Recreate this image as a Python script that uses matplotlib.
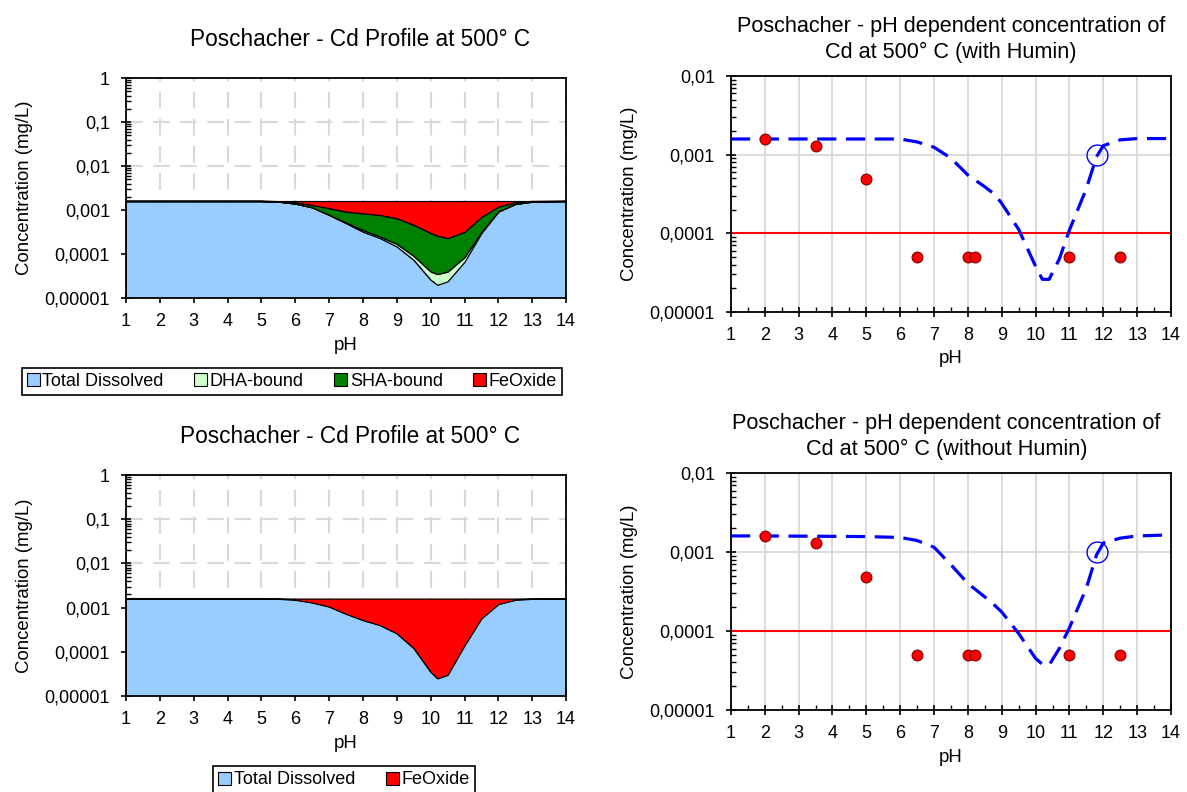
import matplotlib
matplotlib.use("Agg")
import matplotlib.pyplot as plt
import numpy as np
from matplotlib.patches import Patch
from matplotlib.ticker import LogLocator, NullFormatter, MultipleLocator

plt.rcParams['font.family'] = ['Liberation Sans', 'DejaVu Sans']

# pH grid for the stacked profiles (left charts)
ph_prof = [1, 2, 3, 4, 5, 5.5, 6, 6.5, 7, 7.5, 8, 8.5, 9, 9.5, 10, 10.2, 10.5, 11, 11.5, 12, 12.5, 13, 14]

# with Humin (top left), mg/L
dissolved_h = [1.6e-3, 1.6e-3, 1.6e-3, 1.6e-3, 1.6e-3, 1.55e-3, 1.4e-3, 1.15e-3, 7.7e-4, 5.0e-4, 3.2e-4, 2.3e-4,
               1.48e-4, 7.3e-5, 2.6e-5, 2.0e-5, 2.4e-5, 6.7e-5, 3.0e-4, 9.2e-4, 1.37e-3, 1.55e-3, 1.6e-3]
dha_h = [0, 0, 0, 0, 0, 0, 0, 0, 1e-5, 2e-5, 3e-5, 2e-5, 2.2e-5, 1.7e-5, 1.4e-5, 1.5e-5, 1.6e-5, 1.8e-5,
         2e-5, 2e-5, 1e-5, 0, 0]
sha_h = [0, 0, 0, 0, 0, 3e-5, 1e-4, 1.5e-4, 3.2e-4, 4.0e-4, 4.9e-4, 5.2e-4, 4.8e-4, 3.7e-4, 2.6e-4, 2.25e-4,
         1.9e-4, 2.35e-4, 3.8e-4, 2.6e-4, 1.2e-4, 5e-5, 0]
feox_h = [0, 0, 0, 0, 0, 2e-5, 1e-4, 3e-4, 5e-4, 6.8e-4, 7.6e-4, 8.3e-4, 9.5e-4, 1.14e-3, 1.3e-3, 1.34e-3,
          1.37e-3, 1.28e-3, 9.0e-4, 4.0e-4, 1.0e-4, 0, 0]

# without Humin (bottom left)
dissolved_n = [1.6e-3, 1.6e-3, 1.6e-3, 1.6e-3, 1.6e-3, 1.58e-3, 1.5e-3, 1.3e-3, 1.05e-3, 7.2e-4, 5.2e-4, 4.0e-4,
               2.6e-4, 1.2e-4, 3.5e-5, 2.5e-5, 3.0e-5, 1.4e-4, 5.7e-4, 1.2e-3, 1.5e-3, 1.58e-3, 1.6e-3]
feox_n = [0, 0, 0, 0, 0, 2e-5, 1e-4, 3e-4, 5.5e-4, 8.8e-4, 1.08e-3, 1.2e-3, 1.34e-3, 1.48e-3, 1.565e-3,
          1.575e-3, 1.57e-3, 1.46e-3, 1.03e-3, 4e-4, 1e-4, 2e-5, 0]

# modelled total dissolved (right charts)
ph_model = [1, 2, 3, 4, 5, 6, 6.5, 7, 7.5, 8, 8.5, 8.8, 9, 9.5, 10, 10.2, 10.4, 10.7, 11, 11.5, 11.8, 12, 12.5, 13, 14]
model_h = [1.58e-3, 1.58e-3, 1.58e-3, 1.58e-3, 1.58e-3, 1.58e-3, 1.45e-3, 1.24e-3, 9e-4, 5.5e-4, 3.9e-4, 3.1e-4,
           2.4e-4, 1.12e-4, 3.8e-5, 2.6e-5, 2.6e-5, 4.7e-5, 1.1e-4, 3.7e-4, 9.4e-4, 1.3e-3, 1.54e-3, 1.6e-3, 1.6e-3]
model_n = [1.6e-3, 1.6e-3, 1.59e-3, 1.58e-3, 1.57e-3, 1.53e-3, 1.4e-3, 1.15e-3, 6.9e-4, 4.0e-4, 2.7e-4, 2.1e-4,
           1.74e-4, 9.3e-5, 4.5e-5, 3.8e-5, 3.7e-5, 6.0e-5, 1.1e-4, 3.5e-4, 9.2e-4, 1.3e-3, 1.5e-3, 1.6e-3, 1.65e-3]

# measured leachate values
ph_meas = [2, 3.5, 5, 6.5, 8, 8.2, 11, 12.5]
conc_meas = [1.6e-3, 1.3e-3, 4.9e-4, 5e-5, 5e-5, 5e-5, 5e-5, 5e-5]
ph_mark, conc_mark = [11.8], [1e-3]
limit = 1e-4

C_BLUE, C_DHA, C_SHA, C_FE = '#99ccff', '#ccffcc', '#008000', '#ff0000'
FS_TICK, FS_LAB = 13, 13.4

fig = plt.figure(figsize=(11.87, 7.92), dpi=100)

def style_axes(ax, ymax, dashed_grid):
    ax.set_yscale('log')
    ax.set_xlim(1, 14)
    ax.set_ylim(1e-5, ymax)
    ax.set_xticks(range(1, 15))
    ax.xaxis.set_minor_locator(MultipleLocator(0.5))
    ticks = [v for v in [1e-5, 1e-4, 1e-3, 1e-2, 1e-1, 1] if v <= ymax]
    labels = [('%.5f' % v).rstrip('0').rstrip('.').replace('.', ',') for v in ticks]
    ax.set_yticks(ticks, labels)
    ax.yaxis.set_minor_locator(LogLocator(base=10, subs=np.arange(2, 10)))
    ax.yaxis.set_minor_formatter(NullFormatter())
    ax.tick_params(which='major', direction='inout', length=7, width=1.2, labelsize=FS_TICK, pad=8)
    ax.tick_params(which='minor', direction='in', length=3.5, width=1)
    ax.tick_params(axis='x', which='major', pad=7)
    for s in ax.spines.values():
        s.set_linewidth(1.3)
    if dashed_grid:
        ax.grid(True, which='major', color='#d9d9d9', lw=1.5, ls=(0, (8, 5)))
    else:
        ax.grid(True, which='major', color='#d9d9d9', lw=1.3)
    ax.set_axisbelow(True)
    ax.set_xlabel('pH', fontsize=FS_LAB, labelpad=5)
    ax.set_ylabel('Concentration (mg/L)', fontsize=FS_LAB, labelpad=8)

# ---- top left: stacked profile with humin
ax1 = fig.add_axes([0.1062, 0.6237, 0.3707, 0.2778])
style_axes(ax1, 1, True)
ax1.stackplot(ph_prof, dissolved_h, dha_h, sha_h, feox_h, colors=[C_BLUE, C_DHA, C_SHA, C_FE],
              edgecolor='black', lw=0.9, zorder=2)
ax1.set_title('Poschacher - Cd Profile at 500° C', fontsize=16.3, pad=23, x=0.532)
h1 = [Patch(facecolor=c, edgecolor='black', lw=0.8) for c in [C_BLUE, C_DHA, C_SHA, C_FE]]
leg1 = fig.legend(h1, ['Total Dissolved', 'DHA-bound', 'SHA-bound', 'FeOxide'], ncol=4,
                  loc='center', bbox_to_anchor=(292 / 1187, 1 - 381.5 / 792), fontsize=FS_TICK,
                  fancybox=False, edgecolor='black', handlelength=0.7, handleheight=0.7,
                  handletextpad=0.15, columnspacing=1.7, borderpad=0.3, framealpha=1)
leg1.get_frame().set_linewidth(1.2)

# ---- bottom left: profile without humin
ax3 = fig.add_axes([0.1062, 0.1212, 0.3707, 0.2790])
style_axes(ax3, 1, True)
ax3.stackplot(ph_prof, dissolved_n, feox_n, colors=[C_BLUE, C_FE], edgecolor='black', lw=0.9, zorder=2)
ax3.set_title('Poschacher - Cd Profile at 500° C', fontsize=16.3, pad=23, x=0.509)
h3 = [Patch(facecolor=c, edgecolor='black', lw=0.8) for c in [C_BLUE, C_FE]]
leg3 = fig.legend(h3, ['Total Dissolved', 'FeOxide'], ncol=2,
                  loc='center', bbox_to_anchor=(344 / 1187, 1 - 780 / 792), fontsize=FS_TICK,
                  fancybox=False, edgecolor='black', handlelength=0.7, handleheight=0.7,
                  handletextpad=0.15, columnspacing=1.7, borderpad=0.3, framealpha=1)
leg3.get_frame().set_linewidth(1.2)

# ---- right: pH dependent concentration
for pos, model, tag, tx in [([0.6158, 0.6061, 0.3707, 0.2980], model_h, 'with Humin', 0.5),
                            ([0.6158, 0.1035, 0.3707, 0.2992], model_n, 'without Humin', 0.49)]:
    ax = fig.add_axes(pos)
    style_axes(ax, 1e-2, False)
    ax.axhline(limit, color='#ff0000', lw=1.5, zorder=2)
    ax.plot(ph_model, model, color='#0000ff', lw=2.3, ls=(0, (6, 3)), zorder=3)
    ax.plot(ph_meas, conc_meas, 'o', color='#ff0000', mec='#800000', mew=0.8, ms=7.8, zorder=4)
    ax.plot(ph_mark, conc_mark, 'o', mfc='none', mec='#0000ff', mew=1, ms=15, zorder=4)
    ax.set_title('Poschacher - pH dependent concentration of\nCd at 500° C (%s)' % tag,
                 fontsize=15.6, pad=13, linespacing=1.3, x=tx)

fig.savefig('out.png', dpi=100)
